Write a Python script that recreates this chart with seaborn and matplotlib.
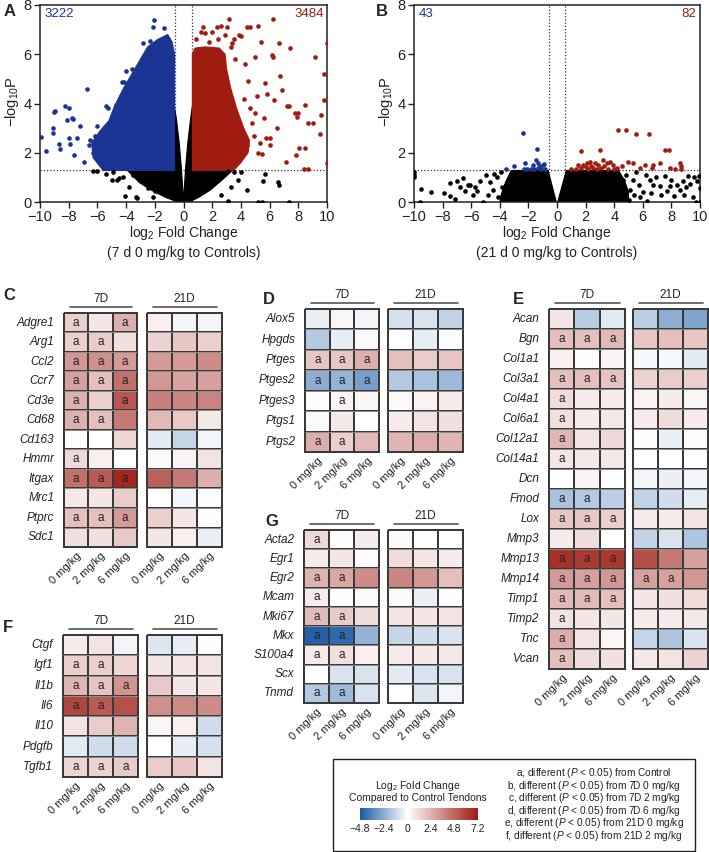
import numpy as np
import pandas as pd
import matplotlib
matplotlib.use('Agg')
import matplotlib.pyplot as plt
import matplotlib.transforms as mtransforms
import seaborn as sns
from matplotlib.colors import LinearSegmentedColormap, Normalize
from matplotlib.patches import Rectangle
from matplotlib.lines import Line2D

# ==========================================================
# DATA
# ==========================================================

DOSES = ["0 mg/kg", "2 mg/kg", "6 mg/kg"]
VMIN, VMAX = -4.8, 7.2
CBAR_TICKS = [-4.8, -2.4, 0, 2.4, 4.8, 7.2]

# --- volcano A (7 d 0 mg/kg vs controls) ---
A_COUNTS = (3222, 3484)
A_BLACK_FILL_X = [-0.62, -0.5, -0.3, -0.15, -0.04, 0.0, 0.04, 0.15, 0.3, 0.5, 0.62, 0.62,
                  3.4, 2.7, 1.9, 1.1, 0.4, -0.4, -1.3, -2.3, -3.1, -3.9, -0.62]
A_BLACK_FILL_Y = [3.8, 3.4, 2.4, 1.4, 0.4, 0.2, 0.4, 1.4, 2.4, 3.4, 3.9, 1.28,
                  1.28, 0.9, 0.5, 0.2, 0.0, 0.0, 0.2, 0.5, 0.8, 1.28, 1.28]
A_BLUE_FILL_X = [-0.62, -0.62, -0.8, -1.1, -1.8, -2.5, -3.0, -3.5, -4.2, -4.8, -5.2, -5.8, -6.4, -6.3, -5.6]
A_BLUE_FILL_Y = [1.28, 6.0, 6.5, 6.8, 6.6, 6.3, 5.8, 5.3, 4.6, 3.9, 3.3, 2.9, 2.4, 1.8, 1.28]
A_RED_FILL_X = [0.62, 0.62, 0.8, 1.5, 2.5, 2.9, 3.0, 3.3, 3.7, 4.2, 4.6, 4.5, 4.0, 3.5]
A_RED_FILL_Y = [1.28, 6.0, 6.25, 6.3, 6.25, 6.0, 5.4, 4.6, 3.8, 3.0, 2.5, 2.0, 1.6, 1.28]

A_BLUE_X = [-9.93, -9.58, -9.12, -9.07, -9.02, -8.95, -8.26, -8.0, -8.14, -7.8, -7.7, -8.65, -8.6, -7.9,
            -8.0, -7.44, -7.2, -7.6, -6.75, -6.93, -6.6, -6.5, -6.0, -5.4, -5.25, -4.7, -4.4, -4.31,
            -4.15, -3.95, -4.0, -3.6, -2.8, -2.33, -2.06, -2.1, -1.36, -1.2, -1.1, -6.3, -6.2, -5.8, -5.2]
A_BLUE_Y = [2.63, 2.09, 3.0, 2.8, 3.67, 3.7, 3.88, 3.8, 3.33, 3.4, 3.38, 2.36, 2.15, 2.36,
            2.6, 2.6, 3.1, 1.9, 4.58, 1.61, 2.3, 2.5, 3.1, 3.88, 3.8, 3.93, 4.1, 4.89,
            4.89, 4.55, 5.3, 5.4, 6.45, 6.52, 7.4, 7.1, 7.08, 6.7, 6.6, 2.0, 2.7, 1.6, 1.5]
A_RED_X = [3.19, 6.26, 1.34, 2.3, 2.6, 3.0, 4.4, 4.6, 5.2, 1.5, 2.0, 3.9, 4.0, 3.5, 3.4, 6.68, 7.42,
           9.16, 6.2, 6.25, 9.98, 9.79, 6.72, 5.68, 5.85, 6.3, 6.84, 9.79, 7.19, 7.35, 7.77, 8.0,
           7.9, 8.47, 8.7, 9.0, 9.6, 9.51, 6.54, 5.75, 6.05, 8.07, 8.5, 7.85, 7.14, 10.0, 8.4, 8.7,
           5.33, 5.2, 5.5, 4.8, 5.0, 4.9, 5.1, 4.5, 4.3, 3.6, 5.4, 5.0, 4.2, 4.6, 4.4, 5.6, 6.0,
           0.9, 1.2, 1.8, 2.4, 2.9, 3.3]
A_RED_Y = [7.44, 7.44, 7.1, 7.1, 7.15, 7.1, 7.1, 7.1, 7.15, 6.85, 6.9, 6.8, 6.75, 6.6, 6.45, 6.45, 6.25,
           5.9, 5.95, 5.9, 6.45, 5.18, 5.1, 4.83, 4.4, 4.15, 4.55, 4.15, 3.9, 3.9, 3.62, 3.6,
           3.47, 3.95, 3.2, 3.2, 3.55, 2.75, 3.0, 2.6, 2.6, 2.2, 2.2, 1.9, 1.64, 1.6, 1.33, 1.35,
           2.38, 1.97, 1.95, 3.2, 3.6, 2.7, 4.3, 4.9, 5.6, 5.8, 6.5, 5.9, 4.2, 3.8, 2.3, 3.4, 2.3,
           6.6, 6.9, 6.5, 6.6, 6.8, 6.3]
A_BLACK_X = [-6.29, -6.0, -5.0, -4.6, -4.5, -4.08, -3.31, -3.25, -2.15, -2.45, -2.0, -5.4, -4.9, -4.2,
             -3.8, -3.5, 3.12, 3.5, 4.4, 5.56, 5.7, 6.6, 6.65, 3.1, 5.2, 5.5, 7.35, 3.8, 4.0, 3.3, 2.6]
A_BLACK_Y = [1.27, 1.27, 0.9, 0.9, 0.98, 0.24, 0.22, 0.18, 0.2, 0.56, 0.45, 1.15, 1.2, 1.0,
             0.6, 1.1, 1.27, 1.2, 0.5, 0.85, 1.15, 0.8, 0.68, 0.03, 0.02, 0.0, 0.0, 0.9, 1.2, 0.6, 0.3]

# --- volcano B (21 d 0 mg/kg vs controls) ---
B_COUNTS = (43, 82)
B_BLACK_L_X = [-0.05, -0.62, -3.2, -3.6, -3.9, -4.0]
B_BLACK_L_Y = [0.0, 1.28, 1.28, 0.8, 0.3, 0.0]
B_BLACK_R_X = [0.05, 0.65, 4.3, 4.7, 5.0, 5.0]
B_BLACK_R_Y = [0.0, 1.28, 1.28, 0.9, 0.4, 0.0]
B_BLACK_X = [-9.98, -9.98, -9.98, -9.51, -8.81, -9.6, -7.88, -7.5, -7.5, -7.13, -7.0, -6.6, -6.45, -6.2,
             -6.05, -5.6, -5.4, -5.17, -5.0, -4.69, -4.22, -3.87, -4.5, -4.8, -4.4, -3.9, -5.7, -6.8,
             -5.9, -4.1, 3.94, 4.6, 5.8, 6.0, 6.5, 6.7, 7.2, 7.55, 7.9, 8.2, 8.6, 8.8, 9.18, 9.5, 9.77,
             9.9, 10.0, 10.0, 9.7, 5.3, 5.55, 6.3, 5.1, 5.4, 5.7, 6.2, 6.9, 7.3, 8.0, 8.4, 9.0, 9.3,
             9.6, 4.8, 5.0, 6.6, 7.7, 8.9]
B_BLACK_Y = [1.23, 1.1, 1.03, 0.52, 0.4, 0.0, 0.36, 0.78, 0.25, 0.13, 0.85, 0.99, 0.44, 0.71,
             0.71, 0.44, 0.84, 0.0, 1.08, 0.8, 1.0, 0.6, 0.5, 0.3, 1.15, 1.2, 0.6, 0.6,
             0.3, 0.2, 1.18, 0.9, 0.2, 0.4, 0.9, 0.7, 0.65, 1.06, 0.65, 0.25, 0.5, 0.85, 1.05, 0.2, 0.85,
             1.05, 0.55, 0.0, 0.0, 0.9, 1.2, 0.05, 0.5, 0.3, 0.7, 1.1, 1.0, 0.3, 0.9, 0.7, 0.6, 0.75,
             1.0, 1.1, 0.1, 0.35, 0.45, 0.3]
B_BLUE_X = [-2.36, -1.38, -3.59, -3.0, -2.24, -1.45, -1.7, -1.3, -1.0, -0.9, -2.1, -1.85, -1.6,
            -1.35, -1.1, -0.85, -2.3, -1.2]
B_BLUE_Y = [2.8, 2.16, 1.34, 1.48, 1.57, 1.71, 1.5, 1.58, 1.5, 1.56, 1.35, 1.35, 1.35,
            1.38, 1.35, 1.35, 1.33, 1.45]
B_RED_X = [1.65, 3.0, 4.29, 4.85, 5.52, 6.43, 7.55, 7.85, 8.6, 8.7, 8.7, 1.49, 1.84, 2.08, 2.31, 2.66,
           2.89, 3.24, 3.47, 3.71, 3.94, 4.17, 4.52, 4.94, 5.34, 5.8, 6.15, 6.62, 6.74, 7.2, 7.9, 8.25,
           1.3, 1.7, 2.2, 2.5, 2.8, 3.1, 3.6, 2.4, 2.0, 3.3, 4.0, 1.0]
B_RED_Y = [2.06, 2.12, 2.93, 2.93, 2.77, 2.77, 2.12, 2.12, 1.6, 1.47, 1.33, 1.5, 1.52, 1.58, 1.64, 1.58,
           1.5, 1.71, 1.58, 1.64, 1.5, 1.37, 1.45, 1.64, 1.58, 1.37, 1.5, 1.37, 1.5, 1.58, 1.37, 1.33,
           1.35, 1.38, 1.35, 1.4, 1.36, 1.4, 1.35, 1.45, 1.42, 1.45, 1.33, 1.33]

# --- heatmap C ---
C_GENES = ["Adgre1", "Arg1", "Ccl2", "Ccr7", "Cd3e", "Cd68", "Cd163", "Hmmr", "Itgax", "Mrc1", "Ptprc", "Sdc1"]
C_7D = [[1.5, 0.8, 2.5], [1.5, 1.6, 1.0], [3.3, 3.5, 3.2], [3.0, 2.0, 4.5], [2.5, 1.5, 5.3],
        [2.5, 2.0, 4.2], [0.1, 0.0, 1.3], [1.2, 0.5, 0.0], [4.5, 5.2, 6.8], [0.7, 0.8, 1.6],
        [2.0, 2.0, 3.2], [1.0, 1.0, 1.7]]
C_21D = [[0.5, -0.3, -0.3], [1.4, 1.8, 1.5], [3.2, 3.2, 3.6], [3.3, 2.9, 3.0], [4.0, 3.8, 3.9],
         [2.2, 1.7, 0.7], [-0.6, -1.2, -0.3], [0.2, 0.4, 0.9], [5.0, 4.2, 2.5], [0.0, -0.3, 0.1],
         [1.5, 0.8, 0.1], [0.8, 0.5, -0.4]]
C_SIG_7D = ["a-a", "aa-", "aaa", "aaa", "a-a", "aa-", "---", "a--", "aaa", "---", "aaa", "---"]
C_SIG_21D = ["---"] * 12

# --- heatmap D ---
D_GENES = ["Alox5", "Hpgds", "Ptges", "Ptges2", "Ptges3", "Ptgs1", "Ptgs2"]
D_7D = [[-0.4, 0.3, -0.3], [-1.6, -0.5, 0.2], [1.8, 1.8, 2.5], [-2.4, -2.2, -2.8], [0.1, 0.4, 0.3],
        [0.2, 0.7, 0.0], [2.6, 1.5, 2.2]]
D_21D = [[-0.9, -0.8, -1.3], [0.0, -0.5, -0.1], [2.0, 1.6, 1.8], [-1.6, -1.8, -2.0], [0.2, 0.4, 0.6],
         [0.6, 0.9, 1.0], [2.3, 2.6, 2.3]]
D_SIG_7D = ["---", "---", "aaa", "aaa", "-a-", "---", "aa-"]
D_SIG_21D = ["---"] * 7

# --- heatmap E ---
E_GENES = ["Acan", "Bgn", "Col1a1", "Col3a1", "Col4a1", "Col6a1", "Col12a1", "Col14a1", "Dcn", "Fmod",
           "Lox", "Mmp3", "Mmp13", "Mmp14", "Timp1", "Timp2", "Tnc", "Vcan"]
E_7D = [[0.8, -1.5, -0.6], [2.0, 2.0, 2.2], [0.5, 0.1, 0.4], [2.0, 2.0, 1.9], [1.1, 0.6, 0.6],
        [1.0, 0.6, 0.7], [2.3, 0.9, 1.2], [0.8, 0.7, 0.7], [0.0, 0.4, 0.0], [-1.8, -1.6, -1.4],
        [1.8, 1.8, 1.5], [0.6, 1.1, 0.0], [6.5, 6.2, 6.3], [3.2, 3.0, 3.3], [2.2, 2.2, 2.0],
        [0.9, 0.8, 0.8], [2.6, 0.9, 0.3], [2.0, 1.1, 1.0]]
E_21D = [[-1.4, -2.4, -2.6], [1.8, 2.0, 1.8], [-0.2, -0.2, -0.6], [1.4, 1.6, 1.5], [0.4, 0.6, 0.3],
         [0.6, 1.1, 0.6], [0.1, -0.4, 0.1], [0.0, 0.0, 0.0], [-0.3, -0.4, -0.3], [-1.3, -1.0, -0.5],
         [0.6, 0.6, 0.8], [-1.3, -0.8, -1.7], [5.6, 4.2, 3.0], [3.0, 3.0, 3.3], [0.8, 1.0, 1.1],
         [0.6, 0.6, 0.7], [-1.2, -1.7, -0.8], [0.7, 0.9, 1.4]]
E_SIG_7D = ["---", "aaa", "---", "aaa", "a--", "a--", "a--", "a--", "---", "aa-",
            "aaa", "---", "aaa", "aaa", "aaa", "a--", "a--", "a--"]
E_SIG_21D = ["---"] * 13 + ["aa-"] + ["---"] * 4

# --- heatmap F ---
F_GENES = ["Ctgf", "Igf1", "Il1b", "Il6", "Il10", "Pdgfb", "Tgfb1"]
F_7D = [[0.6, 0.9, -0.3], [1.5, 1.5, 1.3], [2.3, 1.9, 3.4], [5.8, 5.2, 5.5], [0.9, 1.6, 2.4],
        [-0.6, -1.0, -1.0], [1.3, 1.4, 1.6]]
F_21D = [[-0.7, -0.5, 0.1], [0.8, 0.9, 0.9], [1.7, 0.8, 0.8], [3.5, 3.7, 3.6], [0.3, 0.5, -1.0],
         [0.0, -0.5, -0.9], [1.6, 1.8, 0.9]]
F_SIG_7D = ["---", "aa-", "aaa", "aa-", "---", "---", "aaa"]
F_SIG_21D = ["---"] * 7

# --- heatmap G ---
G_GENES = ["Acta2", "Egr1", "Egr2", "Mcam", "Mki67", "Mkx", "S100a4", "Scx", "Tnmd"]
G_7D = [[1.2, 0.1, 0.6], [0.6, 0.8, 0.1], [2.4, 2.8, 3.6], [0.6, 0.1, 0.2], [2.1, 1.6, 1.1],
        [-4.6, -4.3, -2.2], [0.6, 1.0, 0.5], [0.0, -0.8, -0.8], [-1.6, -2.0, -0.8]]
G_21D = [[0.2, 0.0, 0.0], [1.1, 0.8, 0.6], [3.8, 3.3, 2.0], [0.2, -0.4, 0.1], [0.9, 0.8, 0.9],
         [-1.2, -1.0, -0.8], [0.6, 0.7, 0.7], [-0.6, -0.8, -0.8], [0.0, -0.7, -0.3]]
G_SIG_7D = ["a--", "---", "aa-", "a--", "aa-", "aa-", "aa-", "---", "aa-"]
G_SIG_21D = ["---"] * 9

LEGEND_LINES = [
    r"a, different ($\mathit{P}$ < 0.05) from Control",
    r"b, different ($\mathit{P}$ < 0.05) from 7D 0 mg/kg",
    r"c, different ($\mathit{P}$ < 0.05) from 7D 2 mg/kg",
    r"d, different ($\mathit{P}$ < 0.05) from 7D 6 mg/kg",
    r"e, different ($\mathit{P}$ < 0.05) from 21D 0 mg/kg",
    r"f, different ($\mathit{P}$ < 0.05) from 21D 2 mg/kg",
]

# ==========================================================
# STYLE
# ==========================================================

sns.set_theme(style='white')
plt.rcParams['font.family'] = ['Liberation Sans', 'DejaVu Sans']
plt.rcParams['mathtext.fontset'] = 'custom'
plt.rcParams['mathtext.rm'] = 'Liberation Sans'
plt.rcParams['mathtext.it'] = 'Liberation Sans:italic'
plt.rcParams['mathtext.default'] = 'regular'
plt.rcParams['axes.unicode_minus'] = True

BLUE_PT = '#1b3494'
RED_PT = '#a01b10'
TEXT_DARK = '#222222'
CMAP = LinearSegmentedColormap.from_list(
    'fc', [(0.0, '#1a5aa5'), (0.4, '#ffffff'), (1.0, '#9e1b12')])

W, H = 709, 852
fig = plt.figure(figsize=(W / 100, H / 100), dpi=100)


def add_ax(x0, y0, x1, y1):
    return fig.add_axes([x0 / W, 1 - y1 / H, (x1 - x0) / W, (y1 - y0) / H])


def fig_text(x, y, s, **kw):
    fig.text(x / W, 1 - y / H, s, **kw)


# ==========================================================
# VOLCANO PLOTS
# ==========================================================

def volcano(box, fills, black, blue, red, counts, subtitle, letter):
    x0, y0, x1, y1 = box
    ax = add_ax(x0, y0, x1, y1)
    for fx, fy, col in fills:
        ax.fill(fx, fy, color=col, lw=0.8, zorder=2)
    sns.scatterplot(x=black[0], y=black[1], color='black', s=11, linewidth=0, ax=ax, zorder=3)
    sns.scatterplot(x=blue[0], y=blue[1], color=BLUE_PT, s=11, linewidth=0, ax=ax, zorder=3)
    sns.scatterplot(x=red[0], y=red[1], color=RED_PT, s=11, linewidth=0, ax=ax, zorder=3)
    dot = (0, (1, 1.6))
    ax.axhline(1.3, color='#333333', lw=0.9, ls=dot, zorder=1)
    ax.axvline(-0.585, color='#333333', lw=0.9, ls=dot, zorder=1)
    ax.axvline(0.585, color='#333333', lw=0.9, ls=dot, zorder=1)
    ax.set_xlim(-10, 10)
    ax.set_ylim(0, 8)
    ax.set_xticks(np.arange(-10, 11, 2))
    ax.set_yticks([0, 2, 4, 6, 8])
    ax.tick_params(direction='out', length=4, width=1, labelsize=10.5, pad=2,
                   bottom=True, left=True, colors='#222222')
    for sp in ax.spines.values():
        sp.set_color('#222222')
        sp.set_linewidth(1.1)
    ax.set_xlabel('')
    ax.set_ylabel('')
    ax.text(0.015, 0.985, str(counts[0]), transform=ax.transAxes, ha='left', va='top',
            color=BLUE_PT, fontsize=9.5)
    ax.text(0.988, 0.985, str(counts[1]), transform=ax.transAxes, ha='right', va='top',
            color=RED_PT, fontsize=9.5)
    cx = (x0 + x1) / 2
    fig_text(cx, 233, r"log$_2$ Fold Change", ha='center', va='center', fontsize=10, color=TEXT_DARK)
    fig_text(cx, 253, subtitle, ha='center', va='center', fontsize=10, color=TEXT_DARK)
    fig_text(x0 - 28, 102, r"$-$log$_{10}$P", ha='center', va='center', rotation=90,
             fontsize=10.5, color=TEXT_DARK)
    fig_text(letter[0], letter[1], letter[2], ha='left', va='center', fontsize=12,
             fontweight='bold')
    return ax


volcano((40, 5, 327, 202),
        [(A_BLACK_FILL_X, A_BLACK_FILL_Y, 'black'),
         (A_BLUE_FILL_X, A_BLUE_FILL_Y, BLUE_PT),
         (A_RED_FILL_X, A_RED_FILL_Y, RED_PT)],
        (A_BLACK_X, A_BLACK_Y), (A_BLUE_X, A_BLUE_Y), (A_RED_X, A_RED_Y),
        A_COUNTS, "(7 d 0 mg/kg to Controls)", (4, 11, 'A'))

volcano((414, 5, 700, 202),
        [(B_BLACK_L_X, B_BLACK_L_Y, 'black'), (B_BLACK_R_X, B_BLACK_R_Y, 'black')],
        (B_BLACK_X, B_BLACK_Y), (B_BLUE_X, B_BLUE_Y), (B_RED_X, B_RED_Y),
        B_COUNTS, "(21 d 0 mg/kg to Controls)", (376, 11, 'B'))


# ==========================================================
# HEATMAPS
# ==========================================================

def heat_block(x0, x1, top, bottom, vals, sig, genes, show_genes, header):
    ax = add_ax(x0, top, x1, bottom)
    df = pd.DataFrame(vals, index=genes, columns=DOSES)
    annot = np.array([['a' if c == 'a' else '' for c in s] for s in sig])
    sns.heatmap(df, ax=ax, cmap=CMAP, vmin=VMIN, vmax=VMAX, cbar=False,
                annot=annot, fmt='', annot_kws={'color': TEXT_DARK, 'fontsize': 8.5},
                linewidths=1.3, linecolor='#3a3a3a')
    ax.collections[0].set_clip_on(False)
    ax.hlines(np.arange(1, len(genes)), 0, 3, color='#b0b0b0', lw=0.5, zorder=5)
    ax.set_xticks(np.arange(3) + 0.5)
    ax.set_xticklabels(DOSES, rotation=45, ha='right', rotation_mode='anchor',
                       fontsize=8, color=TEXT_DARK)
    ax.tick_params(axis='x', length=0, pad=3)
    if show_genes:
        ax.set_yticks(np.arange(len(genes)) + 0.5)
        ax.set_yticklabels(genes, rotation=0, fontstyle='italic', fontsize=8.5, color=TEXT_DARK)
        ax.tick_params(axis='y', length=0, pad=7)
    else:
        ax.set_yticks([])
    ax.set_xlabel('')
    ax.set_ylabel('')
    # group header with line
    trans = mtransforms.offset_copy(ax.transAxes, fig=fig, y=6, units='dots')
    ax.add_line(Line2D([0.08, 0.93], [1, 1], transform=trans, color='#555555', lw=1.2,
                       clip_on=False))
    ttrans = mtransforms.offset_copy(ax.transAxes, fig=fig, y=8, units='dots')
    ax.text(0.5, 1, header, transform=ttrans, ha='center', va='bottom', fontsize=8.5,
            color=TEXT_DARK)
    return ax


def heat_panel(letter, letter_xy, x7, x21, top, bottom, genes, v7, v21, s7, s21):
    heat_block(x7[0], x7[1], top, bottom, v7, s7, genes, True, "7D")
    heat_block(x21[0], x21[1], top, bottom, v21, s21, genes, False, "21D")
    fig_text(letter_xy[0], letter_xy[1], letter, ha='left', va='center', fontsize=12,
             fontweight='bold')


heat_panel('C', (3, 295), (64, 137), (147, 222), 313, 547, C_GENES, C_7D, C_21D, C_SIG_7D, C_SIG_21D)
heat_panel('D', (263, 300), (305, 379), (388, 463), 309, 452, D_GENES, D_7D, D_21D, D_SIG_7D, D_SIG_21D)
heat_panel('E', (513, 300), (549, 625), (633, 708), 309, 669, E_GENES, E_7D, E_21D, E_SIG_7D, E_SIG_21D)
heat_panel('F', (3, 627), (63, 138), (147, 222), 635, 777, F_GENES, F_7D, F_21D, F_SIG_7D, F_SIG_21D)
heat_panel('G', (265, 522), (304, 379), (388, 463), 530, 703, G_GENES, G_7D, G_21D, G_SIG_7D, G_SIG_21D)


# ==========================================================
# LEGEND BOX
# ==========================================================

fig.patches.append(Rectangle((333 / W, 1 - 851 / H), (695 - 333) / W, (851 - 759) / H,
                             transform=fig.transFigure, fill=False, ec='#222222', lw=1.0))
fig_text(418, 786, r"Log$_2$ Fold Change", ha='center', va='center', fontsize=7.5, color=TEXT_DARK)
fig_text(418, 798, "Compared to Control Tendons", ha='center', va='center', fontsize=7.5,
         color=TEXT_DARK)
cax = add_ax(360, 808, 478, 820)
sm = plt.cm.ScalarMappable(norm=Normalize(VMIN, VMAX), cmap=CMAP)
cb = fig.colorbar(sm, cax=cax, orientation='horizontal', ticks=CBAR_TICKS)
cb.outline.set_visible(False)
cb.ax.set_xticklabels([f"{t:g}".replace('-', '\u2212') for t in CBAR_TICKS], fontsize=7.5,
                      color=TEXT_DARK)
cb.ax.tick_params(length=0, pad=3)

for i, line in enumerate(LEGEND_LINES):
    fig_text(594, 773 + i * 12.6, line, ha='center', va='center', fontsize=7.3, color=TEXT_DARK)

fig.savefig('out.png', dpi=100)
